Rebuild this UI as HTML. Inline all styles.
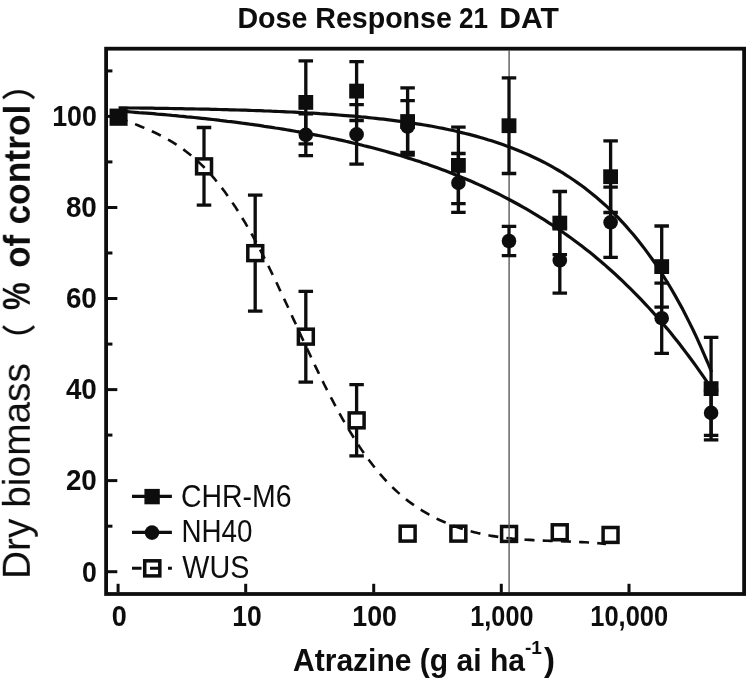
<!DOCTYPE html>
<html lang="en"><head><meta charset="utf-8"><title>Dose Response 21 DAT</title>
<style>html,body{margin:0;padding:0;background:#fff}body{width:751px;height:684px;overflow:hidden}svg{display:block}text{font-family:"Liberation Sans",Arial,sans-serif;fill:#0c0c0c}.b2{font-weight:700}.b{font-weight:700}</style></head><body>
<svg width="751" height="684" viewBox="0 0 751 684">
<rect width="751" height="684" fill="#fff"/>
<defs><filter id="soft" x="0" y="0" width="751" height="684" filterUnits="userSpaceOnUse"><feGaussianBlur stdDeviation="0.65"/></filter></defs>
<g filter="url(#soft)">
<rect x="106.1" y="48.7" width="638" height="545.3" fill="none" stroke="#0c0c0c" stroke-width="3.8"/>
<line x1="108" y1="571.7" x2="117.3" y2="571.7" stroke="#0c0c0c" stroke-width="3"/>
<line x1="108" y1="526.2" x2="112.4" y2="526.2" stroke="#0c0c0c" stroke-width="3"/>
<line x1="108" y1="480.6" x2="117.3" y2="480.6" stroke="#0c0c0c" stroke-width="3"/>
<line x1="108" y1="435.1" x2="112.4" y2="435.1" stroke="#0c0c0c" stroke-width="3"/>
<line x1="108" y1="389.6" x2="117.3" y2="389.6" stroke="#0c0c0c" stroke-width="3"/>
<line x1="108" y1="344.1" x2="112.4" y2="344.1" stroke="#0c0c0c" stroke-width="3"/>
<line x1="108" y1="298.5" x2="117.3" y2="298.5" stroke="#0c0c0c" stroke-width="3"/>
<line x1="108" y1="253.0" x2="112.4" y2="253.0" stroke="#0c0c0c" stroke-width="3"/>
<line x1="108" y1="207.5" x2="117.3" y2="207.5" stroke="#0c0c0c" stroke-width="3"/>
<line x1="108" y1="161.9" x2="112.4" y2="161.9" stroke="#0c0c0c" stroke-width="3"/>
<line x1="108" y1="116.4" x2="117.3" y2="116.4" stroke="#0c0c0c" stroke-width="3"/>
<line x1="108" y1="70.9" x2="112.4" y2="70.9" stroke="#0c0c0c" stroke-width="3"/>
<line x1="118.1" y1="583.8" x2="118.1" y2="592.5" stroke="#0c0c0c" stroke-width="3"/>
<line x1="245.7" y1="583.8" x2="245.7" y2="592.5" stroke="#0c0c0c" stroke-width="3"/>
<line x1="373.7" y1="583.8" x2="373.7" y2="592.5" stroke="#0c0c0c" stroke-width="3"/>
<line x1="501.3" y1="583.8" x2="501.3" y2="592.5" stroke="#0c0c0c" stroke-width="3"/>
<line x1="629" y1="583.8" x2="629" y2="592.5" stroke="#0c0c0c" stroke-width="3"/>
<text class="b" x="96.8" y="581.5" font-size="29" text-anchor="end" textLength="14.8" lengthAdjust="spacingAndGlyphs">0</text>
<text class="b" x="96.8" y="490.4" font-size="29" text-anchor="end" textLength="30.9" lengthAdjust="spacingAndGlyphs">20</text>
<text class="b" x="96.8" y="399.4" font-size="29" text-anchor="end" textLength="30.9" lengthAdjust="spacingAndGlyphs">40</text>
<text class="b" x="96.8" y="308.3" font-size="29" text-anchor="end" textLength="30.9" lengthAdjust="spacingAndGlyphs">60</text>
<text class="b" x="96.8" y="217.3" font-size="29" text-anchor="end" textLength="30.9" lengthAdjust="spacingAndGlyphs">80</text>
<text class="b" x="96.8" y="126.2" font-size="29" text-anchor="end" textLength="44.6" lengthAdjust="spacingAndGlyphs">100</text>
<text class="b" x="119.3" y="626.2" font-size="29" text-anchor="middle" textLength="15" lengthAdjust="spacingAndGlyphs">0</text>
<text class="b" x="246.9" y="626.2" font-size="29" text-anchor="middle" textLength="29.4" lengthAdjust="spacingAndGlyphs">10</text>
<text class="b" x="374.6" y="626.2" font-size="29" text-anchor="middle" textLength="44.6" lengthAdjust="spacingAndGlyphs">100</text>
<text class="b" x="501.9" y="626.2" font-size="29" text-anchor="middle" textLength="63.1" lengthAdjust="spacingAndGlyphs">1,000</text>
<text class="b" x="629.2" y="626.2" font-size="29" text-anchor="middle" textLength="77.9" lengthAdjust="spacingAndGlyphs">10,000</text>
<text class="b" y="28.2" font-size="30"><tspan x="237.4" textLength="214.5" lengthAdjust="spacingAndGlyphs">Dose Response</tspan> <tspan x="459" textLength="29" lengthAdjust="spacingAndGlyphs">21</tspan> <tspan x="499.3" textLength="59.5" lengthAdjust="spacingAndGlyphs">DAT</tspan></text>
<text class="b" x="293" y="671" font-size="31.5"><tspan textLength="232" lengthAdjust="spacingAndGlyphs">Atrazine (g ai ha</tspan><tspan dy="-17" font-size="19">-1</tspan><tspan dy="17" dx="2" font-size="33">)</tspan></text>
<g transform="translate(29.8,579) rotate(-90)">
<text x="0" y="0" font-size="38" textLength="216" lengthAdjust="spacingAndGlyphs">Dry biomass</text>
<text x="221.4" y="2" font-size="34" style="font-family:'Liberation Sans','Noto Sans CJK SC',sans-serif;font-weight:500">（</text>
<text class="b2" y="0" font-size="36"><tspan x="269" font-size="39.5" textLength="27.7" lengthAdjust="spacingAndGlyphs">%</tspan> <tspan x="311.2" textLength="33" lengthAdjust="spacingAndGlyphs">of</tspan> <tspan x="354.4" textLength="120" lengthAdjust="spacingAndGlyphs">control</tspan></text>
<text x="478" y="2" font-size="34" style="font-family:'Liberation Sans','Noto Sans CJK SC',sans-serif;font-weight:500">）</text>
</g>
<path d="M204 127.5 V205.1 M196.75 127.5 H211.25 M196.75 205.1 H211.25" fill="none" stroke="#0c0c0c" stroke-width="3.3"/>
<path d="M255.2 195.1 V311.1 M247.95 195.1 H262.45 M247.95 311.1 H262.45" fill="none" stroke="#0c0c0c" stroke-width="3.3"/>
<path d="M305.8 291.3 V382.1 M298.55 291.3 H313.05 M298.55 382.1 H313.05" fill="none" stroke="#0c0c0c" stroke-width="3.3"/>
<path d="M356.6 384.7 V455.9 M349.35 384.7 H363.85 M349.35 455.9 H363.85" fill="none" stroke="#0c0c0c" stroke-width="3.3"/>
<rect x="196.6" y="158.9" width="14.9" height="14.9" fill="#fff" stroke="#0c0c0c" stroke-width="3.5"/>
<rect x="247.8" y="245.7" width="14.9" height="14.9" fill="#fff" stroke="#0c0c0c" stroke-width="3.5"/>
<rect x="298.4" y="329.2" width="14.9" height="14.9" fill="#fff" stroke="#0c0c0c" stroke-width="3.5"/>
<rect x="349.2" y="412.9" width="14.9" height="14.9" fill="#fff" stroke="#0c0c0c" stroke-width="3.5"/>
<rect x="400.2" y="526.2" width="14.9" height="14.9" fill="#fff" stroke="#0c0c0c" stroke-width="3.5"/>
<rect x="450.9" y="526.2" width="14.9" height="14.9" fill="#fff" stroke="#0c0c0c" stroke-width="3.5"/>
<rect x="501.6" y="526.5" width="14.9" height="14.9" fill="#fff" stroke="#0c0c0c" stroke-width="3.5"/>
<rect x="552.3" y="524.8" width="14.9" height="14.9" fill="#fff" stroke="#0c0c0c" stroke-width="3.5"/>
<rect x="603.1" y="527.5" width="14.9" height="14.9" fill="#fff" stroke="#0c0c0c" stroke-width="3.5"/>
<path d="M124.0 119.8 L127.5 121.2 L130.9 122.5 L134.4 123.9 L137.9 125.3 L141.3 126.7 L144.8 128.1 L148.3 129.6 L151.7 131.2 L155.2 132.8 L158.7 134.5 L162.1 136.3 L165.6 138.2 L169.1 140.1 L172.5 142.2 L176.0 144.4 L179.5 146.7 L182.9 149.1 L186.4 151.7 L189.9 154.4 L193.4 157.3 L196.8 160.4 L200.3 163.6 L203.8 167.0 L207.2 170.6 L210.7 174.4 L214.2 178.4 L217.6 182.6 L221.1 187.0 L224.6 191.5 L228.0 196.3 L231.5 201.3 L235.0 206.4 L238.4 211.8 L241.9 217.4 L245.4 223.1 L248.8 229.1 L252.3 235.2 L255.8 241.6 L259.2 248.1 L262.7 254.7 L266.2 261.6 L269.6 268.5 L273.1 275.6 L276.6 282.8 L280.0 290.2 L283.5 297.6 L287.0 305.0 L290.4 312.5 L293.9 320.1 L297.4 327.6 L300.8 335.2 L304.3 342.7 L307.8 350.2 L311.3 357.6 L314.7 364.9 L318.2 372.1 L321.7 379.2 L325.1 386.2 L328.6 393.0 L332.1 399.7 L335.5 406.2 L339.0 412.6 L342.5 418.8 L345.9 424.8 L349.4 430.6 L352.9 436.3 L356.3 441.8 L359.8 447.1 L363.3 452.2 L366.7 457.1 L370.2 461.8 L373.7 466.3 L377.1 470.6 L380.6 474.7 L384.1 478.6 L387.5 482.3 L391.0 485.8 L394.5 489.2 L397.9 492.4 L401.4 495.4 L404.9 498.3 L408.3 501.1 L411.8 503.6 L415.3 506.1 L418.7 508.4 L422.2 510.6 L425.7 512.7 L429.2 514.7 L432.6 516.5 L436.1 518.3 L439.6 520.0 L443.0 521.5 L446.5 523.0 L450.0 524.5 L453.4 525.8 L456.9 527.0 L460.4 528.2 L463.8 529.3 L467.3 530.4 L470.8 531.3 L474.2 532.2 L477.7 533.1 L481.2 533.8 L484.6 534.6 L488.1 535.2 L491.6 535.9 L495.0 536.4 L498.5 536.9 L502.0 537.4 L505.4 537.9 L508.9 538.2 L512.4 538.6 L515.8 538.9 L519.3 539.2 L522.8 539.5 L526.2 539.7 L529.7 539.9 L533.2 540.1 L536.6 540.3 L540.1 540.5 L543.6 540.6 L547.1 540.7 L550.5 540.9 L554.0 541.0 L557.5 541.1 L560.9 541.2 L564.4 541.4 L567.9 541.5 L571.3 541.6 L574.8 541.8 L578.3 541.9 L581.7 542.1 L585.2 542.3 L588.7 542.5 L592.1 542.7 L595.6 543.0 L599.1 543.3 L602.5 543.6 L606.0 543.9" fill="none" stroke="#0c0c0c" stroke-width="2.6" stroke-dasharray="10 8.2" stroke-dashoffset="6.3"/>
<line x1="509.1" y1="50" x2="509.1" y2="592" stroke="#5a5a5a" stroke-width="1.4"/>
<path d="M118.6 107.8 L122.3 107.9 L126.1 107.9 L129.8 108.0 L133.5 108.0 L137.2 108.0 L141.0 108.1 L144.7 108.1 L148.4 108.2 L152.2 108.2 L155.9 108.3 L159.6 108.3 L163.4 108.4 L167.1 108.4 L170.8 108.5 L174.5 108.6 L178.3 108.6 L182.0 108.7 L185.7 108.8 L189.5 108.8 L193.2 108.9 L196.9 109.0 L200.7 109.1 L204.4 109.1 L208.1 109.2 L211.8 109.3 L215.6 109.4 L219.3 109.5 L223.0 109.6 L226.8 109.7 L230.5 109.8 L234.2 109.9 L237.9 110.0 L241.7 110.1 L245.4 110.2 L249.1 110.3 L252.9 110.5 L256.6 110.6 L260.3 110.7 L264.1 110.9 L267.8 111.0 L271.5 111.2 L275.2 111.3 L279.0 111.5 L282.7 111.6 L286.4 111.8 L290.2 112.0 L293.9 112.2 L297.6 112.4 L301.3 112.6 L305.1 112.8 L308.8 113.0 L312.5 113.2 L316.3 113.4 L320.0 113.7 L323.7 113.9 L327.5 114.2 L331.2 114.4 L334.9 114.7 L338.6 115.0 L342.4 115.3 L346.1 115.6 L349.8 115.9 L353.6 116.2 L357.3 116.5 L361.0 116.9 L364.8 117.2 L368.5 117.6 L372.2 118.0 L375.9 118.4 L379.7 118.8 L383.4 119.2 L387.1 119.6 L390.9 120.1 L394.6 120.6 L398.3 121.1 L402.0 121.6 L405.8 122.1 L409.5 122.6 L413.2 123.2 L417.0 123.8 L420.7 124.4 L424.4 125.0 L428.2 125.6 L431.9 126.3 L435.6 127.0 L439.3 127.7 L443.1 128.4 L446.8 129.2 L450.5 130.0 L454.3 130.8 L458.0 131.7 L461.7 132.6 L465.4 133.5 L469.2 134.4 L472.9 135.4 L476.6 136.4 L480.4 137.5 L484.1 138.5 L487.8 139.7 L491.6 140.8 L495.3 142.0 L499.0 143.3 L502.7 144.6 L506.5 145.9 L510.2 147.3 L513.9 148.7 L517.7 150.2 L521.4 151.8 L525.1 153.4 L528.9 155.0 L532.6 156.7 L536.3 158.5 L540.0 160.3 L543.8 162.2 L547.5 164.2 L551.2 166.2 L555.0 168.3 L558.7 170.5 L562.4 172.7 L566.1 175.1 L569.9 177.5 L573.6 180.0 L577.3 182.6 L581.1 185.3 L584.8 188.0 L588.5 190.9 L592.3 193.9 L596.0 197.0 L599.7 200.2 L603.4 203.5 L607.2 206.9 L610.9 210.5 L614.6 214.1 L618.4 217.9 L622.1 221.9 L625.8 225.9 L629.5 230.2 L633.3 234.5 L637.0 239.1 L640.7 243.7 L644.5 248.6 L648.2 253.6 L651.9 258.8 L655.7 264.2 L659.4 269.8 L663.1 275.5 L666.8 281.5 L670.6 287.7 L674.3 294.1 L678.0 300.8 L681.8 307.6 L685.5 314.7 L689.2 322.1 L693.0 329.7 L696.7 337.6 L700.4 345.8 L704.1 354.3 L707.9 363.0 L711.6 372.1" fill="none" stroke="#0c0c0c" stroke-width="3.2"/>
<path d="M124.0 111.5 L127.7 111.7 L131.4 112.0 L135.1 112.3 L138.8 112.6 L142.5 112.8 L146.2 113.1 L149.9 113.4 L153.6 113.7 L157.2 114.1 L160.9 114.4 L164.6 114.7 L168.3 115.0 L172.0 115.4 L175.7 115.7 L179.4 116.1 L183.1 116.4 L186.8 116.8 L190.5 117.1 L194.2 117.5 L197.9 117.9 L201.6 118.3 L205.3 118.7 L209.0 119.1 L212.7 119.5 L216.4 119.9 L220.1 120.4 L223.7 120.8 L227.4 121.3 L231.1 121.7 L234.8 122.2 L238.5 122.7 L242.2 123.2 L245.9 123.6 L249.6 124.2 L253.3 124.7 L257.0 125.2 L260.7 125.7 L264.4 126.3 L268.1 126.8 L271.8 127.4 L275.5 128.0 L279.2 128.5 L282.9 129.1 L286.6 129.8 L290.2 130.4 L293.9 131.0 L297.6 131.7 L301.3 132.3 L305.0 133.0 L308.7 133.7 L312.4 134.4 L316.1 135.1 L319.8 135.8 L323.5 136.5 L327.2 137.3 L330.9 138.1 L334.6 138.8 L338.3 139.6 L342.0 140.4 L345.7 141.3 L349.4 142.1 L353.0 143.0 L356.7 143.9 L360.4 144.7 L364.1 145.7 L367.8 146.6 L371.5 147.5 L375.2 148.5 L378.9 149.5 L382.6 150.5 L386.3 151.5 L390.0 152.6 L393.7 153.6 L397.4 154.7 L401.1 155.8 L404.8 156.9 L408.5 158.1 L412.2 159.2 L415.9 160.4 L419.5 161.6 L423.2 162.9 L426.9 164.1 L430.6 165.4 L434.3 166.7 L438.0 168.1 L441.7 169.4 L445.4 170.8 L449.1 172.2 L452.8 173.7 L456.5 175.2 L460.2 176.7 L463.9 178.2 L467.6 179.7 L471.3 181.3 L475.0 183.0 L478.7 184.6 L482.4 186.3 L486.0 188.0 L489.7 189.8 L493.4 191.5 L497.1 193.3 L500.8 195.2 L504.5 197.1 L508.2 199.0 L511.9 201.0 L515.6 203.0 L519.3 205.0 L523.0 207.1 L526.7 209.2 L530.4 211.4 L534.1 213.6 L537.8 215.8 L541.5 218.1 L545.2 220.4 L548.8 222.8 L552.5 225.2 L556.2 227.7 L559.9 230.2 L563.6 232.8 L567.3 235.4 L571.0 238.0 L574.7 240.7 L578.4 243.5 L582.1 246.3 L585.8 249.2 L589.5 252.1 L593.2 255.1 L596.9 258.2 L600.6 261.3 L604.3 264.4 L608.0 267.7 L611.7 271.0 L615.3 274.3 L619.0 277.7 L622.7 281.2 L626.4 284.8 L630.1 288.4 L633.8 292.1 L637.5 295.8 L641.2 299.7 L644.9 303.6 L648.6 307.5 L652.3 311.6 L656.0 315.7 L659.7 320.0 L663.4 324.3 L667.1 328.6 L670.8 333.1 L674.5 337.7 L678.2 342.3 L681.8 347.0 L685.5 351.9 L689.2 356.8 L692.9 361.8 L696.6 366.9 L700.3 372.1 L704.0 377.4 L707.7 382.8 L711.4 388.3" fill="none" stroke="#0c0c0c" stroke-width="3.2"/>
<path d="M305.8 113.9 V155.7 M298.55 113.9 H313.05 M298.55 155.7 H313.05" fill="none" stroke="#0c0c0c" stroke-width="3.3"/>
<path d="M356.6 104.6 V164.2 M349.35 104.6 H363.85 M349.35 164.2 H363.85" fill="none" stroke="#0c0c0c" stroke-width="3.3"/>
<path d="M407.6 100.7 V152.3 M400.35 100.7 H414.85 M400.35 152.3 H414.85" fill="none" stroke="#0c0c0c" stroke-width="3.3"/>
<path d="M458.4 153.5 V212.3 M451.15 153.5 H465.65 M451.15 212.3 H465.65" fill="none" stroke="#0c0c0c" stroke-width="3.3"/>
<path d="M509 226.3 V255.7 M501.75 226.3 H516.25 M501.75 255.7 H516.25" fill="none" stroke="#0c0c0c" stroke-width="3.3"/>
<path d="M559.8 227.6 V293.2 M552.55 227.6 H567.05 M552.55 293.2 H567.05" fill="none" stroke="#0c0c0c" stroke-width="3.3"/>
<path d="M610.6 187.2 V257.4 M603.35 187.2 H617.85 M603.35 257.4 H617.85" fill="none" stroke="#0c0c0c" stroke-width="3.3"/>
<path d="M661.7 283.1 V353.3 M654.45 283.1 H668.95 M654.45 353.3 H668.95" fill="none" stroke="#0c0c0c" stroke-width="3.3"/>
<path d="M711.1 390.5 V435.3 M703.85 390.5 H718.35 M703.85 435.3 H718.35" fill="none" stroke="#0c0c0c" stroke-width="3.3"/>
<path d="M305.8 60.9 V143.9 M298.55 60.9 H313.05 M298.55 143.9 H313.05" fill="none" stroke="#0c0c0c" stroke-width="3.3"/>
<path d="M356.6 61.7 V120.5 M349.35 61.7 H363.85 M349.35 120.5 H363.85" fill="none" stroke="#0c0c0c" stroke-width="3.3"/>
<path d="M407.6 87.9 V155.1 M400.35 87.9 H414.85 M400.35 155.1 H414.85" fill="none" stroke="#0c0c0c" stroke-width="3.3"/>
<path d="M458.4 127.1 V203.7 M451.15 127.1 H465.65 M451.15 203.7 H465.65" fill="none" stroke="#0c0c0c" stroke-width="3.3"/>
<path d="M509 77.9 V173.5 M501.75 77.9 H516.25 M501.75 173.5 H516.25" fill="none" stroke="#0c0c0c" stroke-width="3.3"/>
<path d="M559.8 191.5 V254.7 M552.55 191.5 H567.05 M552.55 254.7 H567.05" fill="none" stroke="#0c0c0c" stroke-width="3.3"/>
<path d="M610.6 140.9 V212.5 M603.35 140.9 H617.85 M603.35 212.5 H617.85" fill="none" stroke="#0c0c0c" stroke-width="3.3"/>
<path d="M661.7 226.0 V307.2 M654.45 226.0 H668.95 M654.45 307.2 H668.95" fill="none" stroke="#0c0c0c" stroke-width="3.3"/>
<path d="M711.1 337.3 V439.9 M703.85 337.3 H718.35 M703.85 439.9 H718.35" fill="none" stroke="#0c0c0c" stroke-width="3.3"/>
<circle cx="305.8" cy="134.8" r="7.3" fill="#0c0c0c"/>
<circle cx="356.6" cy="134.4" r="7.3" fill="#0c0c0c"/>
<circle cx="407.6" cy="126.5" r="7.3" fill="#0c0c0c"/>
<circle cx="458.4" cy="182.9" r="7.3" fill="#0c0c0c"/>
<circle cx="509.0" cy="241.0" r="7.3" fill="#0c0c0c"/>
<circle cx="559.8" cy="260.4" r="7.3" fill="#0c0c0c"/>
<circle cx="610.6" cy="222.3" r="7.3" fill="#0c0c0c"/>
<circle cx="661.7" cy="318.2" r="7.3" fill="#0c0c0c"/>
<circle cx="711.1" cy="412.9" r="7.3" fill="#0c0c0c"/>
<rect x="298.4" y="95.0" width="14.8" height="14.8" fill="#0c0c0c"/>
<rect x="349.2" y="83.7" width="14.8" height="14.8" fill="#0c0c0c"/>
<rect x="400.2" y="114.1" width="14.8" height="14.8" fill="#0c0c0c"/>
<rect x="451.0" y="158.0" width="14.8" height="14.8" fill="#0c0c0c"/>
<rect x="501.6" y="118.3" width="14.8" height="14.8" fill="#0c0c0c"/>
<rect x="552.4" y="215.7" width="14.8" height="14.8" fill="#0c0c0c"/>
<rect x="603.2" y="169.3" width="14.8" height="14.8" fill="#0c0c0c"/>
<rect x="654.3" y="259.2" width="14.8" height="14.8" fill="#0c0c0c"/>
<rect x="703.7" y="381.2" width="14.8" height="14.8" fill="#0c0c0c"/>
<rect x="109.6" y="108.6" width="18" height="17.2" fill="#0c0c0c"/>
<line x1="132" y1="496.4" x2="171.9" y2="496.4" stroke="#0c0c0c" stroke-width="3.3"/>
<rect x="144.4" y="488.9" width="15.4" height="15.4" fill="#0c0c0c"/>
<line x1="132" y1="532.4" x2="171.9" y2="532.4" stroke="#0c0c0c" stroke-width="3.3"/>
<circle cx="152.0" cy="532.6" r="7.3" fill="#0c0c0c"/>
<line x1="132" y1="568.3" x2="171.9" y2="568.3" stroke="#0c0c0c" stroke-width="3" stroke-dasharray="9.5 8.5"/>
<rect x="144.7" y="560.8" width="15.1" height="15.1" fill="none" stroke="#0c0c0c" stroke-width="3.5"/>
<text x="181" y="506.9" font-size="31" textLength="110.5" lengthAdjust="spacingAndGlyphs">CHR-M6</text>
<text x="181.4" y="542.2" font-size="31" textLength="71" lengthAdjust="spacingAndGlyphs">NH40</text>
<text x="182.3" y="578.4" font-size="31" textLength="67" lengthAdjust="spacingAndGlyphs">WUS</text>
</g>
</svg></body></html>
